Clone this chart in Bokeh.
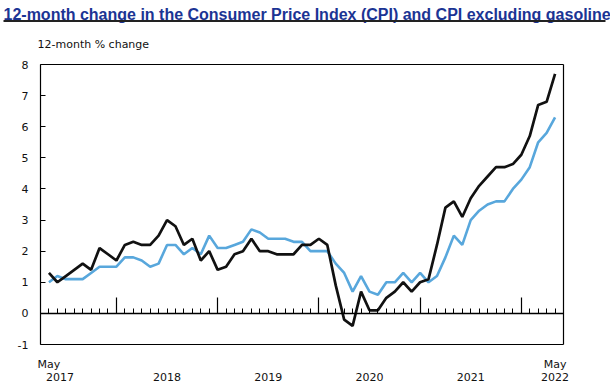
from bokeh.plotting import figure
from bokeh.models import LinearAxis, FixedTicker, Range1d, ColumnDataSource
from bokeh.core.properties import value
from bokeh.embed import file_html
from bokeh.resources import INLINE

# ---- data: 12-month % change, May 2017 .. May 2022 (61 months) ----
month_index = list(range(61))
cpi = [1.3, 1.0, 1.2, 1.4, 1.6, 1.4, 2.1, 1.9,
       1.7, 2.2, 2.3, 2.2, 2.2, 2.5, 3.0, 2.8, 2.2, 2.4, 1.7, 2.0,
       1.4, 1.5, 1.9, 2.0, 2.4, 2.0, 2.0, 1.9, 1.9, 1.9, 2.2, 2.2,
       2.4, 2.2, 0.9, -0.2, -0.4, 0.7, 0.1, 0.1, 0.5, 0.7, 1.0, 0.7,
       1.0, 1.1, 2.2, 3.4, 3.6, 3.1, 3.7, 4.1, 4.4, 4.7, 4.7, 4.8,
       5.1, 5.7, 6.7, 6.8, 7.7]
cpi_ex_gasoline = [1.0, 1.2, 1.1, 1.1, 1.1, 1.3, 1.5, 1.5,
                   1.5, 1.8, 1.8, 1.7, 1.5, 1.6, 2.2, 2.2, 1.9, 2.1, 1.9, 2.5,
                   2.1, 2.1, 2.2, 2.3, 2.7, 2.6, 2.4, 2.4, 2.4, 2.3, 2.3, 2.0,
                   2.0, 2.0, 1.6, 1.3, 0.7, 1.2, 0.7, 0.6, 1.0, 1.0, 1.3, 1.0,
                   1.3, 1.0, 1.2, 1.8, 2.5, 2.2, 3.0, 3.3, 3.5, 3.6, 3.6, 4.0,
                   4.3, 4.7, 5.5, 5.8, 6.3]
y_ticks = list(range(-1, 9))
y_tick_labels = ["-1", "0", "1", "2", "3", "4", "5", "6", "7", "8"]
january_index = [8, 20, 32, 44, 56]
month_label_pos = [0, 60]
month_labels = ["May", "May"]
year_label_pos = [1.3, 14, 26, 38, 50, 60]
year_labels = ["2017", "2018", "2019", "2020", "2021", "2022"]

title_text = "12-month change in the Consumer Price Index (CPI) and CPI excluding gasoline"
y_title = "12-month % change"

AXIS_FONT = "DejaVu Sans"
FS = "11px"
TXT = "#111111"

# ---- layout (pixels) ----
W, H = 610, 388
FL, FR, FT, FB = 40, 563, 64, 344          # chart box edges
XMIN, XMAX = -1, 61                          # chart box in data units
YMIN, YMAX = -1, 8
xs = (XMAX - XMIN) / (FR - FL)               # data units per px
ys = (YMAX - YMIN) / (FB - FT)

def px_x(px):
    return XMIN + (px - FL) * xs

def px_y(py):
    return YMAX - (py - FT) * ys

p = figure(width=W, height=H, output_backend="svg", toolbar_location=None,
           x_range=Range1d(px_x(0), px_x(W)), y_range=Range1d(px_y(H), px_y(0)),
           min_border=0, x_axis_type=None, y_axis_type=None)
p.grid.visible = False
p.outline_line_color = None
p.background_fill_color = "white"
p.border_fill_color = "white"

src = ColumnDataSource(dict(x=month_index, cpi=cpi, exg=cpi_ex_gasoline))
p.line("x", "exg", source=src, line_color="#58a7dc", line_width=2.6)
p.line("x", "cpi", source=src, line_color="#111111", line_width=2.7)

def plain_axis(loc, bounds, ticks, labels=None, standoff=0):
    ax = LinearAxis(fixed_location=loc, bounds=bounds, ticker=FixedTicker(ticks=ticks))
    if labels is not None:
        ax.major_label_overrides = {k: v for k, v in zip(ticks, labels)}
    ax.axis_line_color = "black"
    ax.axis_line_width = 1.2
    ax.major_tick_line_color = None
    ax.minor_tick_line_color = None
    ax.major_tick_in = 0
    ax.major_tick_out = 0
    ax.major_label_standoff = standoff
    ax.major_label_text_font = AXIS_FONT
    ax.major_label_text_font_size = FS
    ax.major_label_text_color = TXT
    return ax

# left axis with inward ticks
yax = plain_axis(XMIN, (YMIN, YMAX), y_ticks, y_tick_labels, standoff=12)
yax.major_tick_line_color = "black"
yax.major_tick_in = 5
p.add_layout(yax, "left")

# right and top edges of the chart box
rax = plain_axis(XMAX, (YMIN, YMAX), [])
p.add_layout(rax, "right")
tax = plain_axis(YMAX, (XMIN, XMAX), [])
p.add_layout(tax, "above")

# bottom edge with month labels
bax = plain_axis(YMIN, (XMIN, XMAX), month_label_pos, month_labels, standoff=13)
p.add_layout(bax, "below")

# year labels
yrax = plain_axis(YMIN, (XMIN, XMAX), year_label_pos, year_labels, standoff=28)
yrax.axis_line_color = None
p.add_layout(yrax, "below")

# zero line with monthly ticks
zax = LinearAxis(fixed_location=0, bounds=(XMIN, XMAX),
                 ticker=FixedTicker(ticks=january_index, minor_ticks=month_index))
zax.axis_line_color = "black"
zax.axis_line_width = 1.3
zax.major_tick_in = 16
zax.major_tick_out = 0
zax.minor_tick_in = 5
zax.minor_tick_out = 0
zax.major_tick_line_color = "black"
zax.minor_tick_line_color = "black"
zax.major_tick_line_width = 1.2
zax.minor_tick_line_width = 1.0
zax.major_label_standoff = 0
zax.major_label_text_color = None
zax.major_label_text_font_size = "0px"
p.add_layout(zax, "below")

# header: title, rule and unit label
p.text(x=[px_x(3)], y=[px_y(14)], text=[title_text], text_font=value("Liberation Sans"),
       text_font_style="bold", text_font_size="16px", text_color="#1b3494",
       text_align="left", text_baseline="alphabetic")
p.line(x=[px_x(3), px_x(605)], y=[px_y(20.5), px_y(20.5)], line_color="#222222", line_width=2)
p.text(x=[px_x(37)], y=[px_y(44)], text=[y_title], text_font=value(AXIS_FONT),
       text_font_size=FS, text_color=TXT, text_align="left", text_baseline="middle")

open("out.html", "w").write(file_html(p, INLINE))
